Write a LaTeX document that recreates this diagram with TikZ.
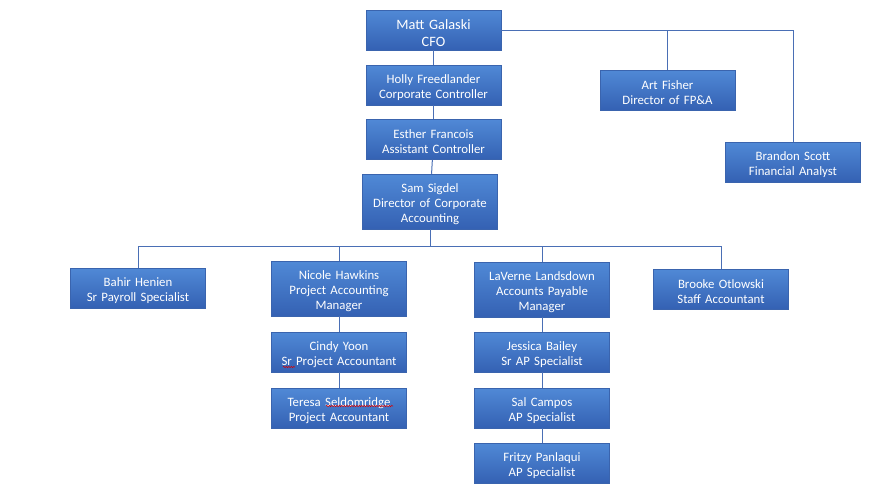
\documentclass[tikz,border=0pt]{standalone}
\usepackage{fontspec}
\setmainfont{Carlito}
\usetikzlibrary{decorations.pathmorphing}
\definecolor{boxtop}{HTML}{5089D6}
\definecolor{boxbot}{HTML}{3461B3}
\definecolor{boxedge}{HTML}{3A64AE}
\definecolor{linec}{HTML}{4A6FB5}
\tikzset{
  pbox/.style={draw=boxedge, line width=0.5pt, top color=boxtop, bottom color=boxbot,
    minimum width=135pt, minimum height=40pt, inner sep=0pt},
  tallbox/.style={pbox, minimum height=55pt},
  txt/.style={inner sep=0pt, text width=133pt, align=center, text=white,
    font=\fontsize{12.8}{15}\selectfont, yshift=-2.5pt},
  bigtxt/.style={txt, font=\fontsize{14.3}{17}\selectfont, yshift=-1pt},
  conn/.style={draw=linec, line width=1pt},
  spell/.style={draw=red!85!black, line width=0.5pt, decorate,
    decoration={snake, amplitude=0.7pt, segment length=2.5pt}}
}
\begin{document}
\begin{tikzpicture}[x=1pt,y=-1pt]
\useasboundingbox[fill=white] (0,0) rectangle (872,493);
\node[pbox, label={[bigtxt]center:{Matt Galaski\\CFO}}] (cfo) at (433.5,30) {};
\node[pbox, label={[txt]center:{Holly Freedlander\\Corporate Controller}}] (holly) at (433.5,85) {};
\node[pbox, label={[txt]center:{Esther Francois\\Assistant Controller}}] (esther) at (433.5,139.5) {};
\node[tallbox, label={[txt]center:{Sam Sigdel\\Director of Corporate\\Accounting}}] (sam) at (430,201.5) {};
\node[pbox, label={[txt]center:{Art Fisher\\Director of FP\&A}}] (art) at (667.5,90) {};
\node[pbox, label={[txt]center:{Brandon Scott\\Financial Analyst}}] (brandon) at (793,162) {};
\node[pbox, label={[txt]center:{Bahir Henien\\Sr Payroll Specialist}}] (bahir) at (138,288) {};
\node[tallbox, label={[txt]center:{Nicole Hawkins\\Project Accounting\\Manager}}] (nicole) at (339,288.5) {};
\node[pbox, label={[txt]center:{Cindy Yoon\\Sr Project Accountant}}] (cindy) at (339,352) {};
\node[pbox, label={[txt]center:{Teresa Seldomridge\\Project Accountant}}] (teresa) at (339,408) {};
\node[tallbox, label={[txt]center:{LaVerne Landsdown\\Accounts Payable\\Manager}}] (laverne) at (542,289.5) {};
\node[pbox, label={[txt]center:{Jessica Bailey\\Sr AP Specialist}}] (jessica) at (542,352) {};
\node[pbox, label={[txt]center:{Sal Campos\\AP Specialist}}] (sal) at (542,408) {};
\node[pbox, label={[txt]center:{Fritzy Panlaqui\\AP Specialist}}] (fritzy) at (542,463) {};
\node[pbox, label={[txt]center:{Brooke Otlowski\\Staff Accountant}}] (brooke) at (721,289) {};

\draw[conn] (cfo) -- (holly);
\draw[conn] (holly) -- (esther);
\draw[conn] (esther) -- (sam);
\draw[conn] (cfo.east) -| (brandon.north);
\draw[conn] (art.north) -- (art.north |- cfo.east);
\draw[conn] (sam.south) -- ++(0,17) coordinate (bus);
\draw[conn] (bahir.north) |- (bus);
\draw[conn] (brooke.north) |- (bus);
\draw[conn] (nicole.north) -- (nicole.north |- bus);
\draw[conn] (laverne.north) -- (laverne.north |- bus);
\draw[conn] (nicole) -- (cindy);
\draw[conn] (cindy) -- (teresa);
\draw[conn] (laverne) -- (jessica);
\draw[conn] (jessica) -- (sal);
\draw[conn] (sal) -- (fritzy);

\draw[spell] ([shift={(-56,15)}]cindy.center) -- ([shift={(-44,15)}]cindy.center);
\draw[spell] ([shift={(-13,-2)}]teresa.center) -- ([shift={(54,-2)}]teresa.center);
\end{tikzpicture}
\end{document}
